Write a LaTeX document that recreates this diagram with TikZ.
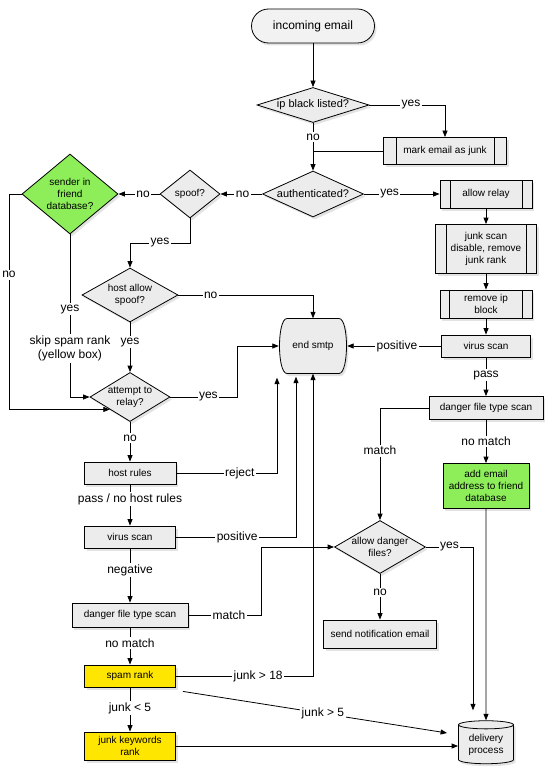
\documentclass[tikz,border=0pt]{standalone}
\usepackage{fontspec}
\setmainfont{Liberation Sans}
\usetikzlibrary{shapes.geometric,arrows.meta,shadows}
\definecolor{nodegray}{HTML}{ECECEC}
\definecolor{startgray}{HTML}{F2F2F2}
\definecolor{friendgreen}{HTML}{8DEE5A}
\definecolor{spamyellow}{HTML}{FFE600}
\tikzset{
  base/.style={draw, line width=0.8pt, fill=nodegray, inner sep=2pt, align=center,
    font=\fontsize{10}{11.8}\selectfont,
    drop shadow={shadow xshift=2pt, shadow yshift=-2.5pt, opacity=0.22}},
  box/.style 2 args={base, rectangle, minimum width=#1, minimum height=#2},
  pproc/.style n args={3}{box={#1}{#2},
    path picture={\draw[line width=0.8pt]
      ([xshift=#3]path picture bounding box.north west) -- ([xshift=#3]path picture bounding box.south west)
      ([xshift=-#3]path picture bounding box.north east) -- ([xshift=-#3]path picture bounding box.south east);}},
  dec/.style n args={3}{base, diamond, minimum width=#1, minimum height=#2, inner sep=0pt, aspect=#3},
  bigtext/.style={font=\fontsize{11}{13}\selectfont},
  ln/.style={line width=0.8pt},
  arr/.style={ln, -{Triangle[length=6.5pt,width=5pt]}},
  lbl/.style={fill=white, inner sep=1.5pt, align=center, font=\fontsize{12}{14.5}\selectfont},
}
\begin{document}
\begin{tikzpicture}[x=1pt,y=-1pt]
\fill[white] (0,0) rectangle (549,778);
\useasboundingbox (0,0) rectangle (549,778);

% end smtp outline (drawn before its node)
\path[draw, line width=0.8pt, fill=nodegray, drop shadow={shadow xshift=2pt, shadow yshift=-2.5pt, opacity=0.22}]
  (287,318.5) -- (339,318.5) .. controls (349,318.5) and (349,373.5) .. (339,373.5)
  -- (287,373.5) .. controls (277,373.5) and (277,318.5) .. cycle;

% ---- nodes ----
\node[base, fill=startgray, rectangle, rounded corners=17pt, minimum width=123pt, minimum height=34pt,
      font=\fontsize{12}{14}\selectfont] (start) at (313,26) {incoming email};
\node[dec={112pt}{35pt}{3.2}, bigtext] (ipbl) at (313,105) {ip black listed?};
\node[pproc={123pt}{27pt}{12.5pt}] (mark) at (445,151) {mark email as junk};
\node[dec={101pt}{46pt}{2.2}, bigtext] (auth) at (313,194) {authenticated?};
\node[pproc={92pt}{28pt}{10pt}] (relay) at (486,194) {allow relay};
\node[dec={60pt}{48pt}{1.25}] (spoof) at (190,194) {spoof?};
\node[dec={96pt}{80pt}{1.2}, fill=friendgreen] (friend) at (70,194) {sender in\\friend\\database?};
\node[dec={96pt}{54pt}{1.78}] (hostspoof) at (130,295) {host allow\\spoof?};
\node[dec={80pt}{49pt}{1.63}] (attempt) at (130,397) {attempt to\\relay?};
\node[rectangle, minimum width=68pt, minimum height=55pt, inner sep=0pt,
      font=\fontsize{10}{11.8}\selectfont] (endsmtp) at (313,346) {end smtp};
\node[pproc={101pt}{49pt}{10.5pt}] (junkscan) at (486,249) {junk scan\\disable, remove\\junk rank};
\node[pproc={92pt}{28pt}{9.5pt}] (removeip) at (486,304) {remove ip\\block};
\node[box={89pt}{22pt}] (virusR) at (486,346) {virus scan};
\node[box={114pt}{23pt}] (dangerR) at (486,408) {danger file type scan};
\node[box={86pt}{45pt}, fill=friendgreen] (addemail) at (486,486) {add email\\address to friend\\database};
\node[dec={91pt}{53pt}{1.72}] (allowdanger) at (380,547) {allow danger\\files?};
\node[box={113pt}{28pt}] (notify) at (380,634) {send notification email};
\node[box={92pt}{22pt}] (hostrules) at (130,473) {host rules};
\node[box={91pt}{22pt}] (virusL) at (130,537) {virus scan};
\node[box={116pt}{24pt}] (dangerL) at (130,615) {danger file type scan};
\node[box={91pt}{22pt}, fill=spamyellow] (spam) at (130,676) {spam rank};
\node[box={91pt}{28pt}, fill=spamyellow] (junkkw) at (130,746) {junk keywords\\rank};
\node[base, cylinder, shape border rotate=90, aspect=0.22, minimum width=55pt, minimum height=43pt,
      inner sep=1pt] (delivery) at (486,745) {delivery\\process};

% ---- helper coordinates ----
\coordinate (c1) at (130,243);
\coordinate (nox) at (9,0);
\coordinate (c2) at (237,0);
\coordinate (c3) at ([xshift=-36pt,yshift=-4pt]endsmtp.south);
\coordinate (c4) at ([xshift=-17pt,yshift=-3pt]endsmtp.south);
\coordinate (c5) at ([xshift=7pt,yshift=-4pt]spam.south east);
\coordinate (c6) at ([xshift=-11pt,yshift=12pt]delivery.west);
\coordinate (c7) at (261,0);
\coordinate (c8) at ([xshift=-13pt,yshift=10pt]delivery.north);

% ---- connectors ----
\draw[arr] (start.south) -- (ipbl.north);
\draw[arr] (ipbl.east) -- node[lbl,pos=0.55]{yes} (ipbl.east -| mark.north) -- (mark.north);
\draw[arr] (ipbl.south) -- node[lbl,pos=0.3]{no} (auth.north);
\draw[ln] (mark.west) -- (mark.west -| ipbl.south);
\draw[arr] (auth.east) -- node[lbl,pos=0.34]{yes} (relay.west);
\draw[arr] (auth.west) -- node[lbl,pos=0.47]{no} (spoof.east);
\draw[arr] (spoof.west) -- node[lbl,pos=0.4]{no} (friend.east);
\draw[arr] (spoof.south) -- (spoof.south |- c1) -- node[lbl]{yes} (c1) -- (hostspoof.north);
\draw[arr] (hostspoof.east) -- node[lbl,pos=0.24]{no} (hostspoof.east -| endsmtp.north) -- (endsmtp.north);
\draw[arr] (hostspoof.south) -- node[lbl,pos=0.4]{yes} (attempt.north);
\draw[arr] (friend.south) -- node[lbl,pos=0.46]{yes} node[lbl,pos=0.7]{skip spam rank\\(yellow box)}
  (friend.south |- attempt.west) -- (attempt.west);
\draw[arr] (friend.west) -- (friend.west -| nox) -- node[lbl,pos=0.375]{no}
  (nox |- attempt.south west) -- (attempt.south west);
\draw[arr] (attempt.east) -- node[lbl,pos=0.57]{yes} (attempt.east -| c2) -- (c2 |- endsmtp.west) -- (endsmtp.west);
\draw[arr] (attempt.south) -- node[lbl,pos=0.41]{no} (hostrules.north);
\draw[arr] (hostrules.east) -- node[lbl,pos=0.63]{reject} (hostrules.east -| c3) -- (c3);
\draw[arr] (hostrules.south) -- node[lbl,pos=0.36]{pass / no host rules} (virusL.north);
\draw[arr] (virusL.east) -- node[lbl,pos=0.51]{positive} (virusL.east -| c4) -- (c4);
\draw[arr] (virusL.south) -- node[lbl,pos=0.4]{negative} (dangerL.north);
\draw[arr] (dangerL.east) -- node[lbl,pos=0.56]{match} (dangerL.east -| c7) -- (c7 |- allowdanger.west) -- (allowdanger.west);
\draw[arr] (dangerL.south) -- node[lbl,pos=0.42]{no match} (spam.north);
\draw[arr] (spam.east) -- node[lbl,pos=0.6]{junk > 18} (spam.east -| endsmtp.south) -- (endsmtp.south);
\draw[arr] (spam.south) -- node[lbl,pos=0.47]{junk < 5} (junkkw.north);
\draw[arr] (c5) -- node[lbl,pos=0.53]{junk > 5} (c6);
\draw[arr] (junkkw.east) -- (junkkw.east -| delivery.west);

\draw[arr] (relay.south) -- (junkscan.north);
\draw[arr] (junkscan.south) -- (removeip.north);
\draw[arr] (removeip.south) -- (virusR.north);
\draw[arr] (virusR.west) -- node[lbl,pos=0.47]{positive} (endsmtp.east);
\draw[arr] (virusR.south) -- node[lbl,pos=0.46]{pass} (dangerR.north);
\draw[arr] (dangerR.south) -- node[lbl]{no match} (addemail.north);
\draw[arr] (dangerR.west) -- (dangerR.west -| allowdanger.north) -- node[lbl,pos=0.38]{match} (allowdanger.north);
\draw[arr] (allowdanger.south) -- node[lbl,pos=0.41]{no} (notify.north);
\draw[arr] (allowdanger.east) -- node[lbl]{yes} (allowdanger.east -| c8) -- (c8);
\draw[arr] (addemail.south) -- (delivery.north);
\end{tikzpicture}
\end{document}
